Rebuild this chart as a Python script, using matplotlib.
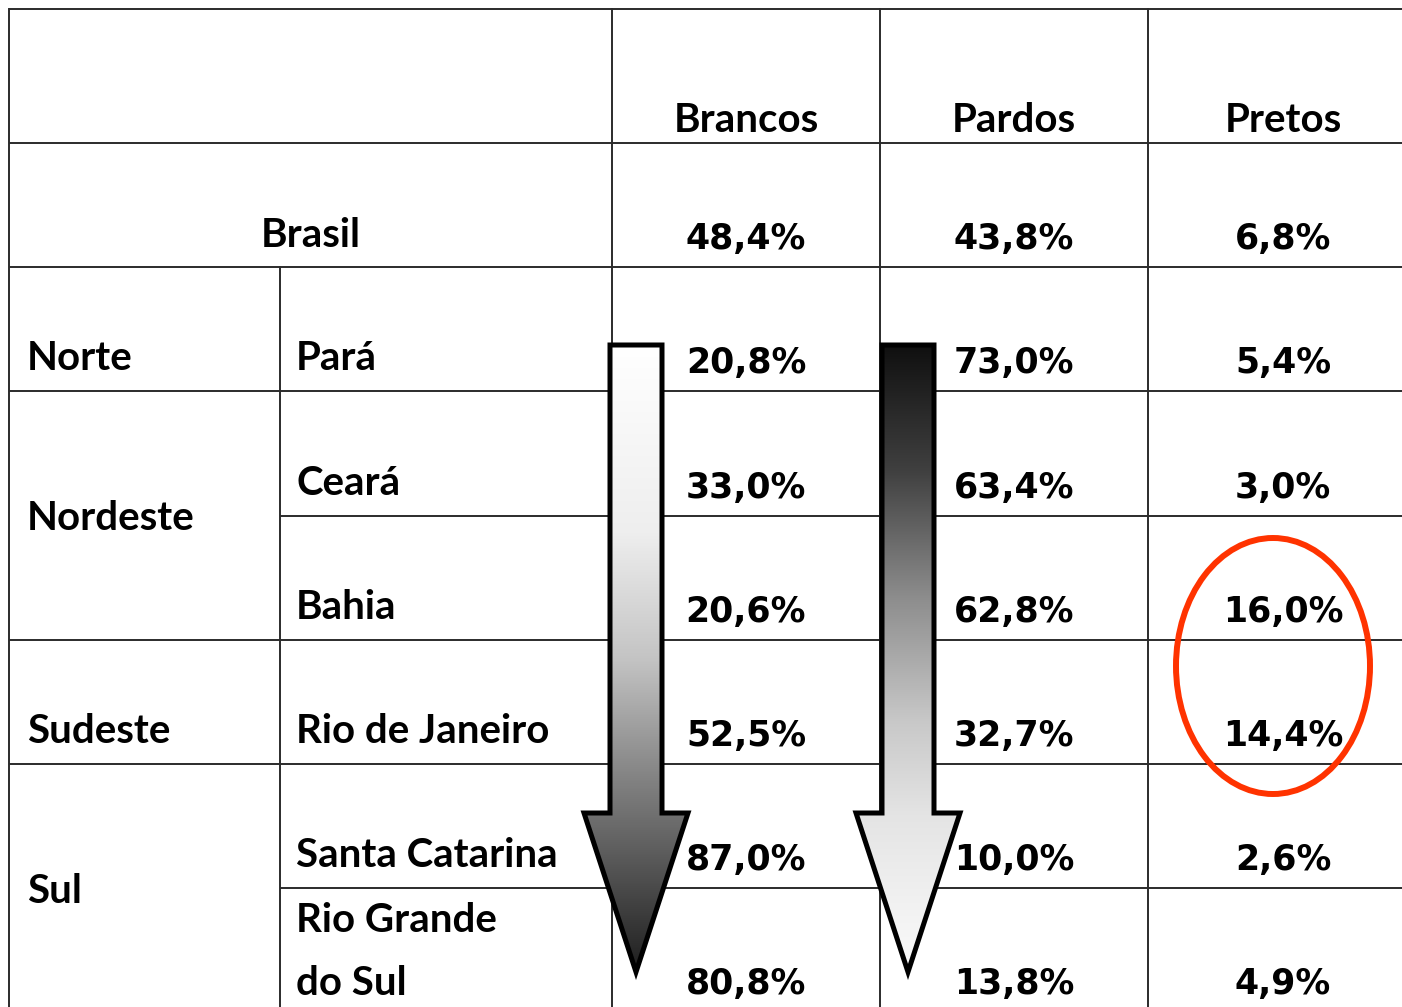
import matplotlib
matplotlib.use("Agg")
import matplotlib.pyplot as plt
from matplotlib.patches import Polygon, Ellipse
from matplotlib.colors import LinearSegmentedColormap
import numpy as np

# Table data
columns = ['Brancos', 'Pardos', 'Pretos']
states = ['Brasil', 'Pará', 'Ceará', 'Bahia', 'Rio de Janeiro', 'Santa Catarina', 'Rio Grande\ndo Sul']
regions = ['Norte', 'Nordeste', 'Sudeste', 'Sul']
region_rows = [(1, 1), (2, 3), (4, 4), (5, 6)]
brancos = [48.4, 20.8, 33.0, 20.6, 52.5, 87.0, 80.8]
pardos = [43.8, 73.0, 63.4, 62.8, 32.7, 10.0, 13.8]
pretos = [6.8, 5.4, 3.0, 16.0, 14.4, 2.6, 4.9]

# layout in pixel units of the picture
col_edges = [9, 280, 612, 880, 1148, 1418]
row_edges = [9, 143, 267, 391, 516, 640, 764, 888, 1012]

fig = plt.figure(figsize=(14.02, 10.07), dpi=100)
ax = fig.add_axes([0, 0, 1, 1])
ax.set_xlim(0, 1402)
ax.set_ylim(1007, 0)
ax.axis('off')

lc = '#2b2b2b'
lw = 1.4
# horizontal lines
full_rows = [0, 1, 2, 3, 5, 6]
for i, y in enumerate(row_edges[:-1]):
    x0 = col_edges[0] if i in full_rows else col_edges[1]
    ax.plot([x0, col_edges[-1]], [y, y], color=lc, lw=lw, solid_capstyle='butt')
# vertical lines
ax.plot([col_edges[0]] * 2, [row_edges[0], row_edges[-1]], color=lc, lw=lw)
ax.plot([col_edges[1]] * 2, [row_edges[2], row_edges[-1]], color=lc, lw=lw)
for x in col_edges[2:5]:
    ax.plot([x, x], [row_edges[0], row_edges[-1]], color=lc, lw=lw)

label_font = dict(family=['Lato', 'DejaVu Sans'], fontweight='bold', fontsize=29, color='black')
num_font = dict(family='DejaVu Sans', fontweight='bold', fontsize=25, color='black')

# headers
for j, name in enumerate(columns):
    cx = (col_edges[j + 2] + col_edges[j + 3]) / 2
    ax.text(cx, row_edges[1] - 11, name, ha='center', va='baseline', **label_font)

# values
fmt = lambda v: f"{v:.1f}".replace('.', ',') + '%'
for j, vals in enumerate([brancos, pardos, pretos]):
    cx = (col_edges[j + 2] + col_edges[j + 3]) / 2
    for i, v in enumerate(vals):
        ax.text(cx, row_edges[i + 2] - 18, fmt(v), ha='center', va='baseline', **num_font)

# row labels
ax.text((col_edges[0] + col_edges[2]) / 2, row_edges[2] - 20, states[0],
        ha='center', va='baseline', **label_font)
for i, s in enumerate(states[1:], start=1):
    if '\n' in s:
        ax.text(col_edges[1] + 16, row_edges[i + 2] - 17, s, ha='left', va='baseline',
                linespacing=1.85, **label_font)
    else:
        ax.text(col_edges[1] + 16, row_edges[i + 2] - 21, s, ha='left', va='baseline', **label_font)

for name, (r0, r1) in zip(regions, region_rows):
    if r0 == r1:
        ax.text(col_edges[0] + 18, row_edges[r1 + 2] - 21, name, ha='left', va='baseline', **label_font)
    else:
        ym = (row_edges[r0 + 1] + min(row_edges[r1 + 2], 1012)) / 2
        ax.text(col_edges[0] + 18, ym, name, ha='left', va='center_baseline', **label_font)

# gradient arrows
def grad_arrow(xc, cmap):
    top, base, tip = 345, 813, 972
    hw, ww = 26, 52
    pts = [(xc - hw, top), (xc + hw, top), (xc + hw, base), (xc + ww, base),
           (xc, tip), (xc - ww, base), (xc - hw, base)]
    poly = Polygon(pts, closed=True, facecolor='none', edgecolor='black', lw=3.6,
                   joinstyle='miter', zorder=4)
    ax.add_patch(poly)
    grad = np.linspace(0, 1, 256).reshape(-1, 1)
    im = ax.imshow(grad, cmap=cmap, aspect='auto', origin='upper',
                   extent=(xc - ww, xc + ww, tip, top), zorder=3)
    im.set_clip_path(poly)

cm1 = LinearSegmentedColormap.from_list('w2b', [(0, '#ffffff'), (0.3, '#eeeeee'), (0.5, '#c4c4c4'),
                                                (0.7, '#808080'), (0.85, '#505050'), (1, '#1e1e1e')])
cm2 = LinearSegmentedColormap.from_list('b2w', [(0, '#101010'), (0.2, '#404040'), (0.4, '#8c8c8c'),
                                                (0.6, '#c8c8c8'), (0.75, '#e4e4e4'), (1, '#fbfbfb')])
grad_arrow(636, cm1)
grad_arrow(908, cm2)

# red ellipse around Pretos in Bahia / Rio de Janeiro
ax.add_patch(Ellipse((1273, 666), 194, 256, fill=False, edgecolor='#ff3300', lw=4.3, zorder=5))

fig.savefig('out.png', dpi=100)
